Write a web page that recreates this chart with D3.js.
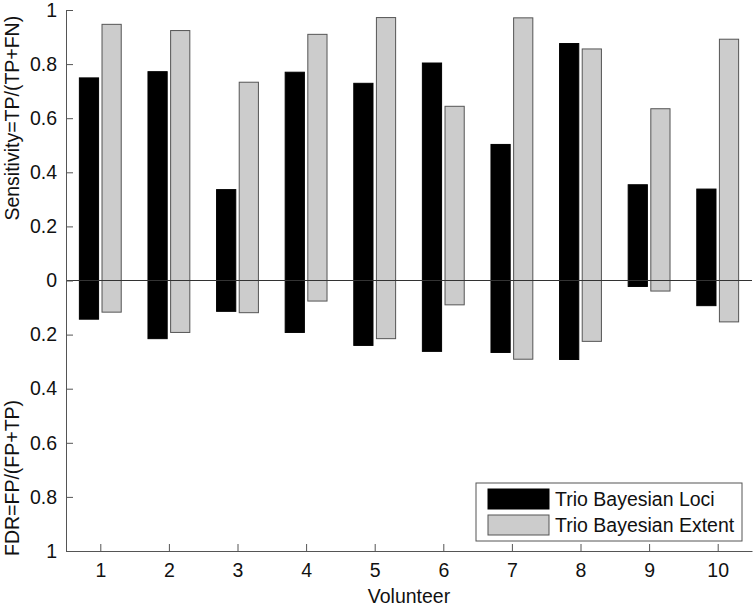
<!DOCTYPE html>
<html>
<head>
<meta charset="utf-8">
<script src="https://cdn.jsdelivr.net/npm/d3@7"></script>
<style>
  body { margin: 0; background: #fff; }
  text { font-family: "Liberation Sans", Arial, Helvetica, sans-serif; }
</style>
</head>
<body>
<svg id="chart" width="756" height="608"></svg>
<script>
// volunteers 1..10
const volunteers = [1, 2, 3, 4, 5, 6, 7, 8, 9, 10];

// sensitivity (upper half)
const lociSens   = [0.749, 0.772, 0.336, 0.770, 0.729, 0.804, 0.503, 0.876, 0.354, 0.338];
const extentSens = [0.947, 0.924, 0.733, 0.910, 0.972, 0.644, 0.971, 0.856, 0.635, 0.892];

// FDR (lower half, drawn downward)
const lociFdr   = [0.143, 0.215, 0.114, 0.192, 0.240, 0.262, 0.266, 0.292, 0.022, 0.093];
const extentFdr = [0.117, 0.192, 0.119, 0.076, 0.215, 0.090, 0.291, 0.225, 0.039, 0.153];

const yTicks = [1, 0.8, 0.6, 0.4, 0.2, 0, -0.2, -0.4, -0.6, -0.8, -1];
const seriesNames = ["Trio Bayesian Loci", "Trio Bayesian Extent"];
const seriesColors = ["#000000", "#cccccc"];
const seriesStroke = ["#000000", "#555555"];

const fontSize = 19.5;
const svg = d3.select("#chart");
const plotL = 66, plotR = 752, plotT = 10, plotB = 551;

const x = d3.scaleLinear().domain([0.5, 10.5]).range([plotL, plotR]);
const y = d3.scaleLinear().domain([-1, 1]).range([plotB, plotT]);

const barW = x(0.28) - x(0);
const offsets = [-0.165, 0.165];

const series = [
  {sens: lociSens, fdr: lociFdr},
  {sens: extentSens, fdr: extentFdr}
];

series.forEach(function(s, k) {
  const g = svg.append("g");
  volunteers.forEach(function(v, i) {
    const cx = x(v + offsets[k]);
    g.append("rect")
      .attr("x", cx - barW / 2)
      .attr("y", y(s.sens[i]))
      .attr("width", barW)
      .attr("height", y(-s.fdr[i]) - y(s.sens[i]))
      .attr("fill", seriesColors[k])
      .attr("stroke", seriesStroke[k])
      .attr("stroke-width", 1);
  });
});

// zero line
svg.append("line")
  .attr("x1", plotL).attr("x2", plotR)
  .attr("y1", y(0)).attr("y2", y(0))
  .attr("stroke", "#333").attr("stroke-width", 1);

// y axis
const yAxis = svg.append("g")
  .attr("transform", "translate(" + plotL + ",0)")
  .call(d3.axisLeft(y).tickValues(yTicks).tickSizeInner(-7).tickSizeOuter(0).tickPadding(9)
    .tickFormat(function(d) { return d3.format("")(Math.abs(Math.round(d * 10) / 10)); }));

// x axis
const xAxis = svg.append("g")
  .attr("transform", "translate(0," + plotB + ")")
  .call(d3.axisBottom(x).tickValues(volunteers).tickSizeInner(-7).tickSizeOuter(0).tickPadding(12));

[yAxis, xAxis].forEach(function(a) {
  a.select(".domain").attr("stroke", "#555");
  a.selectAll(".tick line").attr("stroke", "#555");
  a.selectAll(".tick text").attr("font-size", fontSize).attr("fill", "#111")
    .attr("font-family", "'Liberation Sans', Arial, sans-serif");
});

// axis titles
svg.append("text")
  .attr("transform", "translate(19," + y(0.6) + ")rotate(-90)")
  .attr("text-anchor", "middle")
  .attr("font-size", fontSize).attr("fill", "#111")
  .text("Sensitivity=TP/(TP+FN)");

svg.append("text")
  .attr("transform", "translate(19," + y(-0.73) + ")rotate(-90)")
  .attr("text-anchor", "middle")
  .attr("font-size", fontSize).attr("fill", "#111")
  .text("FDR=FP/(FP+TP)");

svg.append("text")
  .attr("x", x(5.5)).attr("y", 603)
  .attr("text-anchor", "middle")
  .attr("font-size", fontSize).attr("fill", "#111")
  .text("Volunteer");

// legend
const lg = svg.append("g").attr("transform", "translate(476,483)");
lg.append("rect")
  .attr("width", 266).attr("height", 58)
  .attr("fill", "#fff").attr("stroke", "#555").attr("stroke-width", 1);
seriesNames.forEach(function(name, k) {
  lg.append("rect")
    .attr("x", 12).attr("y", 6 + k * 26)
    .attr("width", 61).attr("height", 20)
    .attr("fill", seriesColors[k]).attr("stroke", seriesStroke[k]);
  lg.append("text")
    .attr("x", 79).attr("y", 23 + k * 26)
    .attr("font-size", fontSize).attr("fill", "#111")
    .text(name);
});
</script>
</body>
</html>
